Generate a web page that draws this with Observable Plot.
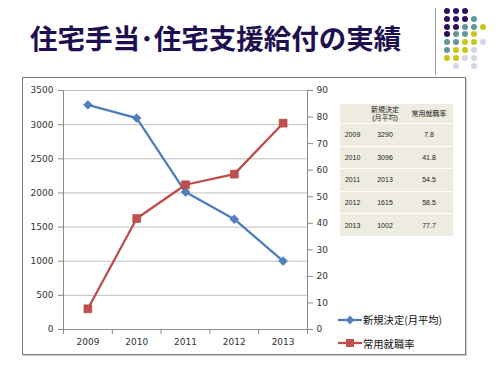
<!DOCTYPE html>
<html>
<head>
<meta charset="utf-8">
<script src="https://cdn.jsdelivr.net/npm/d3@7"></script>
<script src="https://cdn.jsdelivr.net/npm/@observablehq/plot@0.6"></script>
<style>
  html, body { margin: 0; padding: 0; background: #fff; }
  body { width: 500px; height: 375px; position: relative; overflow: hidden; font-family: "Noto Sans CJK JP", sans-serif; }
  #title { position: absolute; left: 30px; top: 19px; font-size: 27.5px; font-weight: bold; color: #1e0f50; line-height: 36px; white-space: nowrap; letter-spacing: 0px; }
  #vline { position: absolute; left: 435px; top: 8px; width: 1px; height: 67px; background: #9a9a9a; }
  #dots { position: absolute; left: 444px; top: 8px; }
  .dot { position: absolute; width: 6px; height: 6px; border-radius: 50%; }
  #frame { position: absolute; left: 22px; top: 77px; width: 442px; height: 276px; border: 1px solid #7f7f7f; background: #fff; box-shadow: 1px 1px 1px #d0d0d0; }
  #chart { position: absolute; left: 22px; top: 77px; }
  #tbl { position: absolute; left: 340px; top: 104px; border-collapse: collapse; font-family: "Liberation Sans", "Noto Sans CJK JP", sans-serif; font-size: 7px; color: #222; }
  #tbl td { background: #eeece1; text-align: center; padding: 0; border-bottom: 1px solid #fff; }
  #legend { position: absolute; left: 338px; top: 308px; font-size: 10.3px; color: #111; }
  .lg { display: flex; align-items: center; height: 23.5px; }
  .lg svg { margin-right: 1px; }
</style>
</head>
<body>
<div id="title"></div>
<div id="vline"></div>
<div id="dots"></div>
<div id="frame"></div>
<div id="chart"></div>
<table id="tbl"></table>
<div id="legend"></div>
<script>
// ---- data ----
const titleText = "住宅手当･住宅支援給付の実績";
const years = [2009, 2010, 2011, 2012, 2013];
const newDecisions = [3290, 3096, 2013, 1615, 1002];     // 新規決定（月平均）
const employmentRate = [7.8, 41.8, 54.5, 58.5, 77.7];    // 常用就職率
const leftTicks = [0, 500, 1000, 1500, 2000, 2500, 3000, 3500];
const rightTicks = [0, 10, 20, 30, 40, 50, 60, 70, 80, 90];
const seriesNames = ["新規決定(月平均)", "常用就職率"];
const tableHeader = ["", "新規決定\n(月平均)", "常用就職率"];
const seriesColors = ["#4a7ebb", "#be4b48"];
const markerFill = ["#4f81bd", "#c0504d"];

// decorative dot pattern (P purple, T teal, Y yellow, L lavender)
const dotRows = ["PPP", "PPPT", "PPTTY", "PTTY", "TTYYL", "TYYL", "YYLL", " L L"];
const dotColors = { P: "#2c0f5e", T: "#639797", Y: "#c9c614", L: "#d5d5ea" };

document.getElementById("title").textContent = titleText;

const dotsEl = document.getElementById("dots");
dotRows.forEach((row, r) => {
  [...row].forEach((c, k) => {
    if (c === " ") return;
    const d = document.createElement("div");
    d.className = "dot";
    d.style.left = (k * 9) + "px";
    d.style.top = (r * 7.8) + "px";
    d.style.background = dotColors[c];
    dotsEl.appendChild(d);
  });
});

// ---- chart ----
const yMax = leftTicks[leftTicks.length - 1];
const ratio = yMax / rightTicks[rightTicks.length - 1];
const data = years.map((year, i) => ({ year, a: newDecisions[i], b: employmentRate[i] * ratio }));
const xMin = years[0] - 0.5, xMax = years[years.length - 1] + 0.5;
const bounds = years.map(y => y - 0.5).concat([xMax]);

const chart = Plot.plot({
  width: 318,
  height: 277,
  marginLeft: 41,
  marginRight: 33,
  marginTop: 13,
  marginBottom: 25,
  x: { domain: [xMin, xMax] },
  y: { domain: [0, yMax] },
  style: { fontFamily: "DejaVu Sans", fontSize: "9px", color: "#333", background: "transparent" },
  marks: [
    Plot.gridY(leftTicks, { stroke: "#bfbfbf", strokeOpacity: 1 }),
    Plot.ruleX([xMin, xMax], { stroke: "#8c8c8c" }),
    Plot.ruleY([0], { stroke: "#8c8c8c" }),
    Plot.axisY(leftTicks, { anchor: "left", tickSize: 5, tickPadding: 5, stroke: "#8c8c8c", fill: "#333", tickFormat: d => String(d), label: null }),
    Plot.axisY(rightTicks.map(v => v * ratio), { anchor: "right", tickSize: 5, tickPadding: 4, stroke: "#8c8c8c", fill: "#333", tickFormat: d => String(Math.round(d / ratio)), label: null }),
    Plot.axisX(years, { tickSize: 0, tickPadding: 9, fill: "#333", tickFormat: d => String(d), label: null }),
    Plot.axisX(bounds, { tickSize: 5, stroke: "#8c8c8c", tickFormat: () => "", label: null }),
    Plot.line(data, { x: "year", y: "a", stroke: seriesColors[0], strokeWidth: 2.25 }),
    Plot.dot(data, { x: "year", y: "a", symbol: "diamond2", r: 4, fill: markerFill[0], stroke: "#3d6fae", strokeWidth: 0.5 }),
    Plot.line(data, { x: "year", y: "b", stroke: seriesColors[1], strokeWidth: 2.25 }),
    Plot.dot(data, { x: "year", y: "b", symbol: "square", r: 4.5, fill: markerFill[1], stroke: "#a53d3a", strokeWidth: 0.5 })
  ]
});
document.getElementById("chart").appendChild(chart);

// ---- table ----
const tbl = document.getElementById("tbl");
const colWidths = [25, 40, 48];
const headRow = tbl.insertRow();
tableHeader.forEach((h, i) => {
  const td = headRow.insertCell();
  td.style.width = colWidths[i] + "px";
  td.style.height = "19px";
  td.style.lineHeight = "8px";
  td.innerHTML = h.split("\n").join("<br>");
});
years.forEach((y, i) => {
  const tr = tbl.insertRow();
  [String(y), String(newDecisions[i]), employmentRate[i].toFixed(1)].forEach((v, k) => {
    const td = tr.insertCell();
    td.style.height = "21.6px";
    td.textContent = v;
  });
});

// ---- legend ----
const legend = document.getElementById("legend");
seriesNames.forEach((name, i) => {
  const row = document.createElement("div");
  row.className = "lg";
  const marker = i === 0
    ? `<path d="M12,-4.4 L16.4,0 L12,4.4 L7.6,0 Z" transform="translate(0,5)" fill="${markerFill[0]}"/>`
    : `<rect x="8" y="1" width="8" height="8" fill="${markerFill[1]}"/>`;
  row.innerHTML = `<svg width="24" height="10"><line x1="0" y1="5" x2="24" y2="5" stroke="${seriesColors[i]}" stroke-width="2.25"/>${marker}</svg><span>${name}</span>`;
  legend.appendChild(row);
});
</script>
</body>
</html>
